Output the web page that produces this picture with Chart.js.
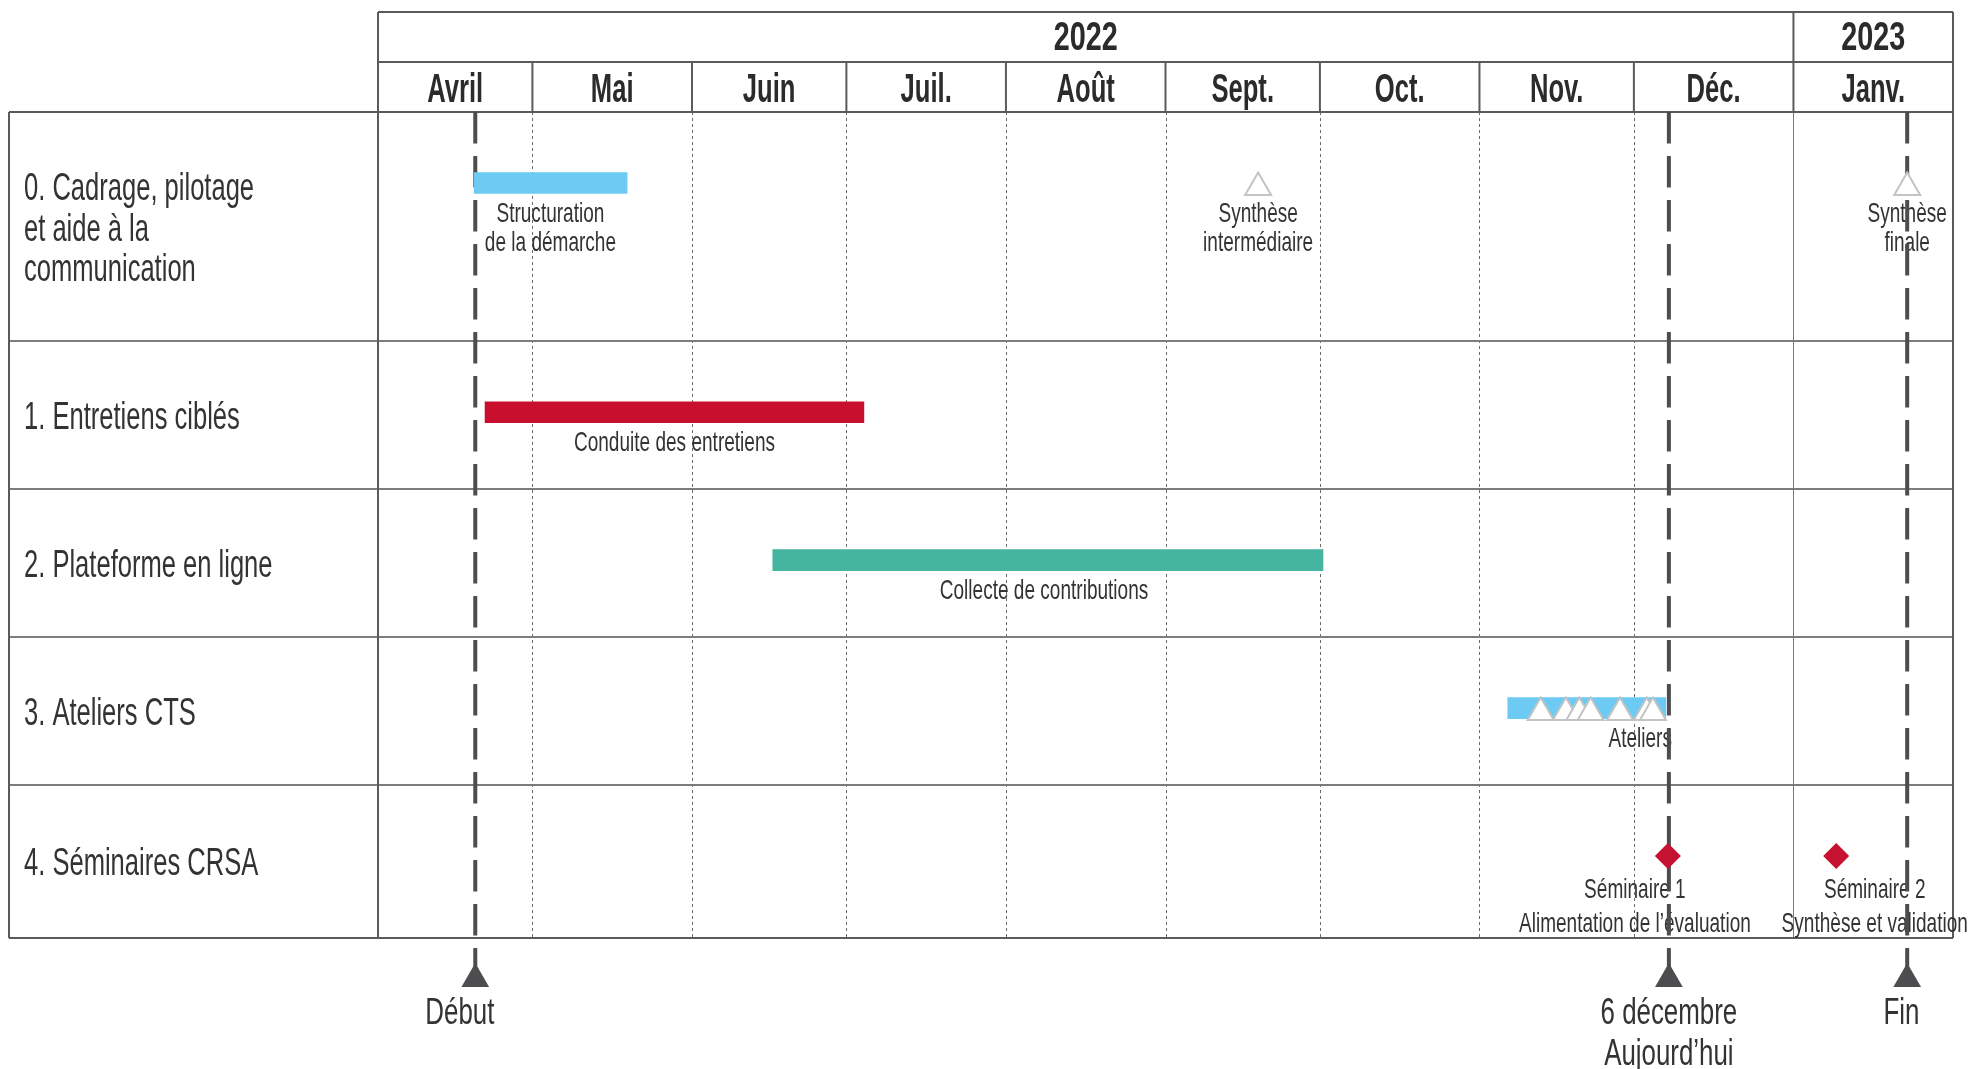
<!DOCTYPE html>
<html><head><meta charset="utf-8">
<script src="https://cdn.jsdelivr.net/npm/chart.js@4.4.1/dist/chart.umd.min.js"></script>
<style>html,body{margin:0;padding:0;background:#fff;}#wrap{width:1970px;height:1069px;position:relative;}</style>
</head><body><div id="wrap"><canvas id="c"></canvas></div>
<script>
// ---- DATA (x values are days counted from 1 April 2022) ----
const months = ['Avril','Mai','Juin','Juil.','Août','Sept.','Oct.','Nov.','Déc.','Janv.'];
const monthStarts = [0,30,61,91,122,153,183,214,244,275,306];
const years = ['2022','2023'];
const yearStarts = [0,275,306];
const rowLabels = ['0. Cadrage, pilotage\net aide à la\ncommunication','1. Entretiens ciblés','2. Plateforme en ligne','3. Ateliers CTS','4. Séminaires CRSA'];

const taskNames = ['Structuration\nde la démarche','Conduite des entretiens','Collecte de contributions','Ateliers'];
const taskRows = [0,1,2,3];
const taskStart = [18.7,20.8,76.7,219.5];
const taskEnd = [48.4,94.4,183.6,250.2];
const taskLabelDays = [33.5,57.6,129.4,251.4];
const taskLabelAlign = ['center','center','center','right'];
const taskColors = ['#6DCBF3','#C8102E','#45B5A0','#6DCBF3'];

const syntheseNames = ['Synthèse\nintermédiaire','Synthèse\nfinale'];
const syntheseDays = [171.0,297.1];

const atelierDays = [225.9,230.8,233.4,235.6,241.3,246.5,247.7];

const seminaireNames = ['Séminaire 1\nAlimentation de l\u2019évaluation','Séminaire 2\nSynthèse et validation'];
const seminaireDays = [250.6,283.3];
const seminaireLabelDays = [244.2,290.8];

const keyNames = ['Début','6 décembre\nAujourd\u2019hui','Fin'];
const keyDays = [18.9,250.8,297.1];
const keyLabelDays = [15.9,250.8,296.0];

// ---- LAYOUT (not data) ----
const rowSpan = [1.55,1,1,1,1.035];
const rowTop = i => rowSpan.slice(0,i).reduce((a,b)=>a+b,0);
const bodyEnd = rowTop(rowSpan.length);
const yAxisMax = 6.2;
const barOff = 0.48, triOff = 0.51, keyMarkerY = 5.862;
const FONT = '"Liberation Sans", Arial, sans-serif';
const TXT = '#333333', LINE = '#5a5a5a', DASH = '#4d4d50';

function txt(ctx, s, x, y, size, k, align, bold, color) {
  ctx.save();
  ctx.font = (bold ? 'bold ' : '') + size + 'px ' + FONT;
  ctx.fillStyle = color || TXT;
  ctx.textAlign = align;
  ctx.textBaseline = 'alphabetic';
  ctx.translate(x, y);
  ctx.scale(k, 1);
  ctx.fillText(s, 0, 0);
  ctx.restore();
}
function hline(ctx, x1, x2, y, w, c, dash) {
  ctx.save(); ctx.beginPath(); ctx.strokeStyle = c; ctx.lineWidth = w; ctx.setLineDash(dash || []);
  ctx.moveTo(x1, y); ctx.lineTo(x2, y); ctx.stroke(); ctx.restore();
}
function vline(ctx, x, y1, y2, w, c, dash) {
  ctx.save(); ctx.beginPath(); ctx.strokeStyle = c; ctx.lineWidth = w; ctx.setLineDash(dash || []);
  ctx.moveTo(x, y1); ctx.lineTo(x, y2); ctx.stroke(); ctx.restore();
}

const ganttFrame = {
  id: 'ganttFrame',
  beforeDatasetsDraw(chart) {
    const ctx = chart.ctx, a = chart.chartArea;
    const X = d => chart.scales.x.getPixelForValue(d);
    const Y = v => chart.scales.y.getPixelForValue(v);
    const top = a.top, bottom = Math.round(Y(bodyEnd));
    const hdrTop = top - 100, hdrMid = top - 50, leftEdge = 9;

    // body grid: month lines
    for (let i = 1; i < monthStarts.length - 1; i++) {
      const x = Math.round(X(monthStarts[i])) + 0.5;
      if (monthStarts[i] === yearStarts[1]) vline(ctx, x, top, bottom, 1, '#7a7a7a');
      else vline(ctx, x, top, bottom, 1, '#6a6a6a', [3, 3]);
    }
    // row dividers
    for (let i = 1; i < rowSpan.length; i++) {
      const y = Math.round(Y(rowTop(i)));
      hline(ctx, leftEdge, a.right, y, 2, '#7c7c7c');
    }
    // body frame
    hline(ctx, leftEdge, a.right, top, 2, LINE);
    hline(ctx, leftEdge, a.right, bottom, 2, LINE);
    vline(ctx, leftEdge, top, bottom, 2, LINE);
    vline(ctx, a.right, hdrTop, bottom, 2, LINE);
    vline(ctx, a.left, hdrTop, bottom, 2, LINE);
    // header frame
    hline(ctx, a.left, a.right, hdrTop, 2, LINE);
    hline(ctx, a.left, a.right, hdrMid, 2, LINE);
    for (let i = 1; i < monthStarts.length - 1; i++) vline(ctx, X(monthStarts[i]), hdrMid, top, 2, LINE);
    for (let i = 1; i < yearStarts.length - 1; i++) vline(ctx, X(yearStarts[i]), hdrTop, hdrMid, 2, LINE);

    // header text
    years.forEach((s, i) => txt(ctx, s, X((yearStarts[i] + yearStarts[i + 1]) / 2), hdrTop + 38, 40, 0.72, 'center', true, '#2b2b2b'));
    months.forEach((s, i) => txt(ctx, s, X((monthStarts[i] + monthStarts[i + 1]) / 2), hdrMid + 40, 40, 0.64, 'center', true, '#2b2b2b'));

    // row labels
    rowLabels.forEach((s, i) => {
      const lines = s.split('\n');
      const c = (Y(rowTop(i)) + Y(rowTop(i + 1))) / 2;
      lines.forEach((l, j) => {
        const cap = c - (lines.length - 1) * 40.5 / 2 + j * 40.5;
        txt(ctx, l, 24, cap + 14, 39, 0.655, 'left');
      });
    });

    // task labels
    taskNames.forEach((s, i) => {
      const my = Y(rowTop(taskRows[i]) + barOff);
      s.split('\n').forEach((l, j) => txt(ctx, l, X(taskLabelDays[i]), my + 39 + j * 29, 28, 0.68, taskLabelAlign[i]));
    });
    syntheseNames.forEach((s, i) => {
      const my = Y(rowTop(0) + barOff);
      s.split('\n').forEach((l, j) => txt(ctx, l, X(syntheseDays[i]), my + 39 + j * 29, 28, 0.68, 'center'));
    });
    seminaireNames.forEach((s, i) => {
      const my = Y(rowTop(4) + barOff);
      s.split('\n').forEach((l, j) => txt(ctx, l, X(seminaireLabelDays[i]), my + 42 + j * 34, 28, 0.68, 'center'));
    });
    // key dates labels
    keyNames.forEach((s, i) => {
      const my = Y(keyMarkerY);
      s.split('\n').forEach((l, j) => txt(ctx, l, X(keyLabelDays[i]), my + 44.5 + j * 41, 37.5, 0.69, 'center'));
    });
  }
};

const datasets = [];
keyDays.forEach(d => datasets.push({
  type: 'line', order: 5, clip: false,
  data: [{x: d, y: 0}, {x: d, y: keyMarkerY}],
  borderColor: DASH, borderWidth: 4, borderDash: [31.5, 12.5],
  pointRadius: [0, 16], pointStyle: 'triangle', pointBackgroundColor: DASH, pointBorderColor: DASH, pointBorderWidth: 0
}));
datasets.push({
  type: 'bar', order: 4, indexAxis: 'y',
  data: taskStart.map((s, i) => ({x: [s, taskEnd[i]], y: rowTop(taskRows[i]) + barOff})),
  backgroundColor: taskColors, borderWidth: 0, barThickness: 21
});
datasets.push({
  type: 'scatter', order: 2, clip: false,
  data: syntheseDays.map(d => ({x: d, y: rowTop(0) + triOff})),
  pointStyle: 'triangle', pointRadius: 15, pointBackgroundColor: '#ffffff', pointBorderColor: '#c3c3c3', pointBorderWidth: 2
});
datasets.push({
  type: 'scatter', order: 2, clip: false,
  data: atelierDays.map(d => ({x: d, y: rowTop(3) + triOff})),
  pointStyle: 'triangle', pointRadius: 15, pointBackgroundColor: '#ffffff', pointBorderColor: '#c3c3c3', pointBorderWidth: 2
});
datasets.push({
  type: 'scatter', order: 1, clip: false,
  data: seminaireDays.map(d => ({x: d, y: rowTop(4) + barOff})),
  pointStyle: 'rectRot', pointRadius: 13, pointBackgroundColor: '#C41230', pointBorderColor: '#C41230', pointBorderWidth: 0
});

const unitPx = 826 / bodyEnd;
new Chart(document.getElementById('c'), {
  type: 'bar',
  data: {datasets},
  options: {
    responsive: true, maintainAspectRatio: false, animation: false, events: [],
    layout: {padding: {left: 378, right: 17, top: 112, bottom: Math.round(1069 - 112 - yAxisMax * unitPx)}},
    plugins: {legend: {display: false}, tooltip: {enabled: false}},
    scales: {
      x: {type: 'linear', min: monthStarts[0], max: monthStarts[monthStarts.length - 1], display: false, offset: false},
      y: {type: 'linear', min: 0, max: yAxisMax, reverse: true, display: false, offset: false}
    }
  },
  plugins: [ganttFrame]
});
</script></body></html>
